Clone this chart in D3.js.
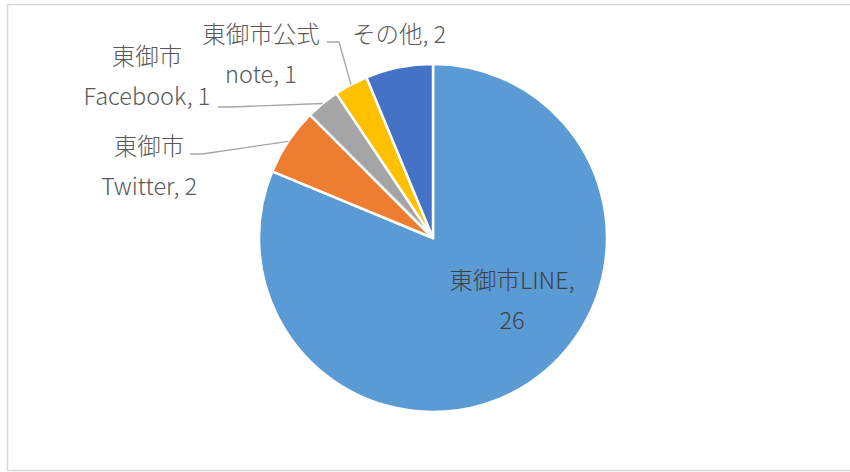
<!DOCTYPE html>
<html lang="ja">
<head>
<meta charset="UTF-8">
<title>円グラフ</title>
<script src="https://cdn.jsdelivr.net/npm/d3@7"></script>
<style>
    html, body { margin: 0; padding: 0; background: #fff; }
    svg { display: block; }
    text { font-family: "Noto Sans CJK JP", "Noto Sans", sans-serif; font-weight: 300; }
</style>
</head>
<body>
<div id="chart"></div>
<script>
    // データ（時計回り、12時の位置から）
    var names = ["東御市LINE", "東御市Twitter", "東御市Facebook", "東御市公式note", "その他"];
    var values = [26, 2, 1, 1, 2];
    var colors = ["#5B9BD5", "#ED7D31", "#A5A5A5", "#FFC000", "#4472C4"];
    // ラベルの行（折り返し位置はExcelのまま）
    var labelLines = [
        ["東御市LINE,", "26"],
        ["東御市", "Twitter, 2"],
        ["東御市", "Facebook, 1"],
        ["東御市公式", "note, 1"],
        ["その他, 2"]
    ];

    var width = 850, height = 472;
    var cx = 433, cy = 238, radius = 174;

    // ラベル配置（レイアウト）
    var labelPos = [
        {x: 512, y: 289, inside: true},
        {x: 149, y: 155},
        {x: 147, y: 65},
        {x: 261, y: 43},
        {x: 399, y: 43}
    ];
    // 引き出し線の始点（ラベル側）
    var leaderStart = [null, [190, 154], [218, 107], [327, 42], null];
    var lineGap = 39.5;

    var svg = d3.select("#chart").append("svg")
        .attr("width", width)
        .attr("height", height);

    // 枠線
    svg.append("rect")
        .attr("x", 7.5).attr("y", 4.5)
        .attr("width", 900).attr("height", 466)
        .attr("fill", "none")
        .attr("stroke", "#d9d9d9")
        .attr("stroke-width", 1.5);

    var pie = d3.pie().sort(null).value(function (d) { return d; });
    var pieData = pie(values);

    var arc = d3.arc().innerRadius(0).outerRadius(radius);
    var edgeArc = d3.arc().innerRadius(radius).outerRadius(radius);

    var g = svg.append("g").attr("transform", "translate(" + cx + "," + cy + ")");

    g.selectAll("path.slice")
        .data(pieData)
        .enter()
        .append("path")
        .attr("class", "slice")
        .attr("d", arc)
        .attr("fill", function (d, i) { return colors[i]; })
        .attr("stroke", "#fff")
        .attr("stroke-width", 2.5)
        .attr("stroke-linejoin", "round");

    // 引き出し線
    pieData.forEach(function (d, i) {
        if (!leaderStart[i]) return;
        var p = edgeArc.centroid(d);
        var s = leaderStart[i];
        var pts = [[s[0], s[1]], [s[0] + 12, s[1]], [p[0] + cx, p[1] + cy]];
        svg.append("polyline")
            .attr("points", pts.map(function (q) { return q.join(","); }).join(" "))
            .attr("fill", "none")
            .attr("stroke", "#a6a6a6")
            .attr("stroke-width", 1.3);
    });

    // ラベル
    var labels = svg.selectAll("text.lbl")
        .data(pieData)
        .enter()
        .append("text")
        .attr("class", "lbl")
        .attr("text-anchor", "middle")
        .attr("font-size", "23.5px")
        .attr("fill", function (d, i) { return labelPos[i].inside ? "#404040" : "#595959"; })
        .attr("x", function (d, i) { return labelPos[i].x; })
        .attr("y", function (d, i) { return labelPos[i].y; });

    labels.each(function (d, i) {
        var t = d3.select(this);
        labelLines[i].forEach(function (line, k) {
            t.append("tspan")
                .attr("x", labelPos[i].x)
                .attr("dy", k === 0 ? 0 : lineGap)
                .text(line);
        });
    });
</script>
</body>
</html>
